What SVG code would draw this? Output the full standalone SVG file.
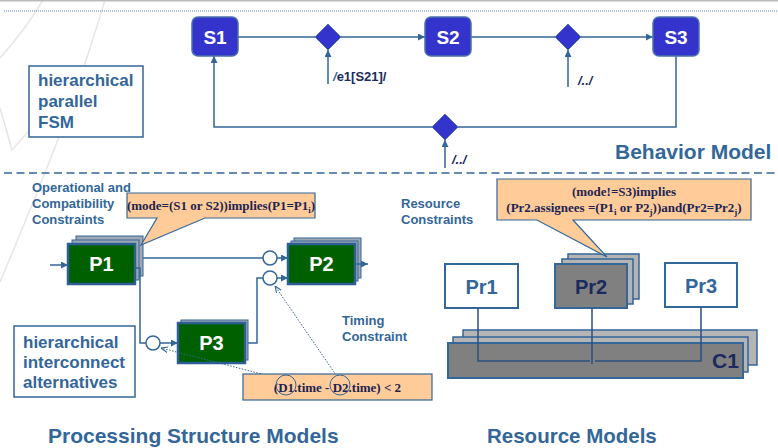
<svg xmlns="http://www.w3.org/2000/svg" width="778" height="448" viewBox="0 0 778 448">
  <style>
    .sans { font-family: "Liberation Sans", Arial, sans-serif; font-weight: bold; }
    .serif { font-family: "Liberation Serif", "Times New Roman", serif; font-weight: bold; fill: #1c2452; }
    .blue { fill: #336699; }
    .navy { fill: #1a2a5e; }
    .wire { fill: none; stroke: #336699; stroke-width: 1.5; }
    .state rect { fill: #3434cc; stroke: #4a72a8; stroke-width: 1.5; }
    .state text { fill: #ffffff; font-size: 19px; text-anchor: middle; }
    .junction { fill: #3434cc; stroke: #4a72a8; stroke-width: 1; }
    .note { fill: #ffffff; stroke: #336699; stroke-width: 1.5; }
    .callout { fill: #ffcc99; stroke: #336699; stroke-width: 1.2; }
    .layer { fill: #9ea8b4; stroke: #336699; stroke-width: 1; }
    .proc { fill: #006000; stroke: #2e5e96; stroke-width: 2.5; }
    .proc-label { fill: #ffffff; font-size: 20px; text-anchor: middle; }
    .port { fill: #ffffff; stroke: #336699; stroke-width: 1.5; }
    .res { fill: #ffffff; stroke: #336699; stroke-width: 2; }
    .res-dark { fill: #808080; stroke: #336699; stroke-width: 2; }
    .res-layer { fill: #b4b4b4; stroke: #336699; stroke-width: 1.5; }
    .bus { fill: none; stroke: #2a5080; stroke-width: 1.5; }
    .dotted { fill: none; stroke: #336699; stroke-width: 1; stroke-dasharray: 1.5 1.5; }
    .swoosh { fill: none; stroke: #e6e6e6; stroke-width: 1.5; }
  </style>
  <defs>
    <marker id="arr" viewBox="0 0 10 10" refX="10" refY="5" markerWidth="7" markerHeight="7" markerUnits="userSpaceOnUse" orient="auto">
      <path d="M0,0 L10,5 L0,10 Z" fill="#336699"/>
    </marker>
    <marker id="arr-thin" viewBox="0 0 10 10" refX="10" refY="5" markerWidth="7" markerHeight="7" markerUnits="userSpaceOnUse" orient="auto">
      <path d="M0,1 L10,5 L0,9" fill="none" stroke="#336699" stroke-width="1.5"/>
    </marker>
  </defs>

  <rect width="778" height="448" fill="#ffffff"/>

  <!-- faint background strokes -->
  <g id="background">
    <path class="swoosh" d="M43,0 Q25,30 0,58"/>
    <path class="swoosh" d="M105,0 Q75,100 40,185 Q20,235 0,282"/>
    <path class="swoosh" d="M0,108 L12,150 L40,118"/>
  </g>

  <!-- section separators -->
  <line x1="0" y1="0.75" x2="778" y2="0.75" stroke="#bbbbbb" stroke-width="1.5"/>
  <line x1="4" y1="11" x2="778" y2="11" stroke="#5a7fb0" stroke-width="1" stroke-dasharray="1 1"/>
  <line x1="4" y1="173" x2="778" y2="173" stroke="#336699" stroke-width="1.5" stroke-dasharray="8 4.5"/>

  <!-- ================= Behavior model ================= -->
  <g id="connectors-fsm">
    <line class="wire" x1="238" y1="37" x2="315" y2="37"/>
    <line class="wire" x1="341" y1="37" x2="425" y2="37" marker-end="url(#arr)"/>
    <line class="wire" x1="471" y1="37" x2="555" y2="37"/>
    <line class="wire" x1="581" y1="37" x2="653" y2="37" marker-end="url(#arr)"/>
    <polyline class="wire" points="676,56 676,127 458,127"/>
    <polyline class="wire" points="432,127 214,127 214,56" marker-end="url(#arr)"/>
    <line class="wire" x1="328" y1="84" x2="328" y2="50" marker-end="url(#arr)"/>
    <line class="wire" x1="568" y1="87" x2="568" y2="50" marker-end="url(#arr)"/>
    <line class="wire" x1="445" y1="168" x2="445" y2="140" marker-end="url(#arr)"/>
  </g>

  <g id="S1" class="state">
    <rect x="192" y="17" width="46" height="39" rx="6"/>
    <text class="sans" x="215" y="43.5">S1</text>
  </g>
  <g id="S2" class="state">
    <rect x="425" y="17" width="46" height="39" rx="6"/>
    <text class="sans" x="448" y="43.5">S2</text>
  </g>
  <g id="S3" class="state">
    <rect x="653" y="17" width="46" height="39" rx="6"/>
    <text class="sans" x="676" y="43.5">S3</text>
  </g>
  <g id="J1"><path class="junction" d="M328,24 L341,37 L328,50 L315,37 Z"/></g>
  <g id="J2"><path class="junction" d="M568,24 L581,37 L568,50 L555,37 Z"/></g>
  <g id="J3"><path class="junction" d="M445,114 L458,127 L445,140 L432,127 Z"/></g>

  <g id="fsm-labels" class="sans" font-size="13">
    <text x="333" y="81"><tspan class="blue" font-style="italic">/</tspan><tspan class="navy">e1[S21]/</tspan></text>
    <text x="578" y="85" class="navy" font-style="italic">/../</text>
    <text x="452" y="164" class="navy" font-style="italic">/../</text>
  </g>

  <g id="fsm-note">
    <rect class="note" x="29" y="66" width="114" height="71"/>
    <text class="sans blue" font-size="17"><tspan x="38" y="86">hierarchical</tspan><tspan x="38" y="107">parallel</tspan><tspan x="38" y="128">FSM</tspan></text>
  </g>

  <text id="behavior-title" class="sans blue" x="615" y="159" font-size="21">Behavior Model</text>

  <!-- ================= Processing structure ================= -->
  <text class="sans blue" font-size="13"><tspan x="32" y="192">Operational and</tspan><tspan x="32" y="208">Compatibility</tspan><tspan x="32" y="224">Constraints</tspan></text>

  <g id="P1">
    <rect class="layer" x="76" y="236" width="67" height="40"/>
    <rect class="layer" x="72" y="240" width="67" height="40"/>
    <rect class="proc" x="68" y="244" width="67" height="40"/>
    <text class="sans proc-label" x="101.5" y="271">P1</text>
  </g>
  <g id="P2">
    <rect class="layer" x="294" y="238" width="67" height="40"/>
    <rect class="layer" x="291" y="241" width="67" height="40"/>
    <rect class="proc" x="288" y="244" width="67" height="40"/>
    <text class="sans proc-label" x="321.5" y="271">P2</text>
  </g>
  <g id="P3">
    <rect class="layer" x="181" y="320" width="67" height="40"/>
    <rect class="proc" x="178" y="323" width="67" height="40"/>
    <text class="sans proc-label" x="211.5" y="350">P3</text>
  </g>

  <g id="connectors-proc">
    <line class="wire" x1="50" y1="265" x2="68" y2="265" marker-end="url(#arr)"/>
    <line class="wire" x1="143" y1="258" x2="263" y2="258"/>
    <line class="wire" x1="277" y1="258" x2="288" y2="258" marker-end="url(#arr)"/>
    <line class="wire" x1="277" y1="278" x2="288" y2="278" marker-end="url(#arr)"/>
    <line class="wire" x1="355" y1="264" x2="368" y2="264" marker-end="url(#arr)"/>
    <polyline class="wire" points="135,268 140,268 140,343 146,343"/>
    <line class="wire" x1="160" y1="343" x2="178" y2="343" marker-end="url(#arr)"/>
    <polyline class="wire" points="248,343 257,343 257,278 263,278"/>
    <line class="dotted" x1="281" y1="379" x2="161" y2="348" marker-end="url(#arr-thin)"/>
    <line class="dotted" x1="336" y1="375" x2="275" y2="286" marker-end="url(#arr-thin)"/>
  </g>

  <g id="ports">
    <circle class="port" cx="270" cy="258" r="7"/>
    <circle class="port" cx="270" cy="278" r="7"/>
    <circle class="port" cx="153" cy="343" r="7"/>
  </g>

  <g id="callout-mode">
    <path class="callout" d="M127,193 H315 V218 H205 L141,245 L157,218 H127 Z"/>
    <text class="serif" x="221" y="210" font-size="13" text-anchor="middle">(mode=(S1 or S2))implies(P1=P1<tspan font-size="9" dy="3">i</tspan><tspan dy="-3">)</tspan></text>
  </g>

  <g id="interconnect-note">
    <rect class="note" x="14" y="326" width="121" height="71"/>
    <text class="sans blue" font-size="17"><tspan x="23" y="348">hierarchical</tspan><tspan x="23" y="368">interconnect</tspan><tspan x="23" y="388">alternatives</tspan></text>
  </g>

  <text class="sans blue" font-size="13"><tspan x="342" y="325">Timing</tspan><tspan x="342" y="341">Constraint</tspan></text>

  <g id="timing-constraint">
    <rect class="callout" x="243" y="374" width="189" height="26"/>
    <text class="serif" x="337.5" y="392" font-size="13" text-anchor="middle">(D1.time - D2.time) &lt; 2</text>
    <circle cx="286" cy="385" r="10" fill="none" stroke="#336699" stroke-width="1"/>
    <circle cx="340" cy="385" r="10" fill="none" stroke="#336699" stroke-width="1"/>
  </g>

  <text id="processing-title" class="sans blue" x="48" y="443" font-size="21">Processing Structure Models</text>

  <!-- ================= Resource model ================= -->
  <text class="sans blue" font-size="13"><tspan x="401" y="208">Resource</tspan><tspan x="401" y="224">Constraints</tspan></text>

  <g id="C1">
    <rect class="res-layer" x="463" y="330" width="294" height="35"/>
    <rect class="res-layer" x="453" y="337" width="295" height="35"/>
    <rect class="res-dark" x="448" y="343" width="295" height="35"/>
    <text class="sans navy" x="712" y="368" font-size="21">C1</text>
  </g>

  <g id="Pr1">
    <rect class="res" x="445" y="264" width="73" height="44"/>
    <text class="sans blue" x="481.5" y="294" font-size="20" text-anchor="middle">Pr1</text>
  </g>
  <g id="Pr2">
    <rect class="res-layer" x="568" y="254" width="71" height="45"/>
    <rect class="res-layer" x="562" y="259" width="71" height="45"/>
    <rect class="res-dark" x="555" y="264" width="72" height="44"/>
    <text class="sans navy" x="591" y="294" font-size="20" text-anchor="middle">Pr2</text>
  </g>
  <g id="Pr3">
    <rect class="res" x="665" y="263" width="72" height="44"/>
    <text class="sans blue" x="701" y="293" font-size="20" text-anchor="middle">Pr3</text>
  </g>

  <g id="connectors-res">
    <polyline class="bus" points="478,308 478,361 590,361"/>
    <line class="bus" x1="592" y1="308" x2="592" y2="364"/>
    <polyline class="bus" points="701,307 701,361 595,361"/>
  </g>

  <g id="callout-assign">
    <path class="callout" d="M497,179 H751 V220 H573 L607,257 L537,220 H497 Z"/>
    <text class="serif" font-size="13" text-anchor="middle"><tspan x="624" y="196">(mode!=S3)implies</tspan></text>
    <text class="serif" font-size="13" text-anchor="middle" x="624" y="212">(Pr2.assignees =(P1<tspan font-size="9" dy="3">i</tspan><tspan dy="-3"> or P2</tspan><tspan font-size="9" dy="3">j</tspan><tspan dy="-3">))and(Pr2=Pr2</tspan><tspan font-size="9" dy="3">j</tspan><tspan dy="-3">)</tspan></text>
  </g>

  <text id="resource-title" class="sans blue" x="487" y="443" font-size="20.5">Resource Models</text>
</svg>
